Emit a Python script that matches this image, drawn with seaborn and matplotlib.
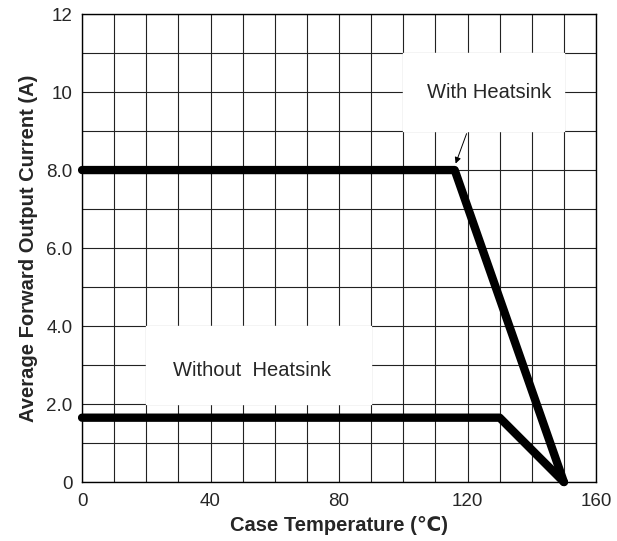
import matplotlib
matplotlib.use('Agg')
import matplotlib.pyplot as plt
import seaborn as sns
import pandas as pd

# derating curves
with_temp = [0, 116, 150]
with_current = [8.0, 8.0, 0.0]
without_temp = [0, 130, 150]
without_current = [1.65, 1.65, 0.0]

x_ticks = [0, 40, 80, 120, 160]
y_ticks = [0, 2, 4, 6, 8, 10, 12]
y_tick_labels = ['0', '2.0', '4.0', '6.0', '8.0', '10', '12']

df = pd.concat([
    pd.DataFrame({'temp': with_temp, 'current': with_current, 'curve': 'With Heatsink'}),
    pd.DataFrame({'temp': without_temp, 'current': without_current, 'curve': 'Without Heatsink'}),
])

sns.set_style('white')
plt.rcParams['font.family'] = ['Liberation Sans', 'DejaVu Sans']

fig = plt.figure(figsize=(6.17, 5.41), dpi=100)
ax = fig.add_axes([0.133, 0.109, 0.833, 0.865])

ax.set_xlim(0, 160)
ax.set_ylim(0, 12)
ax.set_xticks(range(0, 161, 10), minor=True)
ax.set_yticks(range(0, 13, 1), minor=True)
ax.grid(True, which='both', color='#222222', lw=0.8)
ax.set_axisbelow(True)

# white boxes behind the labels hide the grid
ax.fill_between([100, 150], 9, 11, color='white', zorder=1.5)
ax.fill_between([20, 90], 2, 4, color='white', zorder=1.5)

sns.lineplot(data=df, x='temp', y='current', units='curve', estimator=None,
             color='black', lw=6, solid_capstyle='round', solid_joinstyle='round',
             ax=ax, zorder=3, legend=False)
for line in ax.get_lines():
    line.set_clip_on(False)

ax.text(126.7, 10, 'With Heatsink', ha='center', va='center', fontsize=14.5, zorder=4)
ax.text(52.9, 2.85, 'Without  Heatsink', ha='center', va='center', fontsize=14.5, zorder=4)
ax.annotate('', xy=(116, 8.1), xytext=(120, 9),
            arrowprops=dict(arrowstyle='-|>', color='black', lw=0.7, mutation_scale=9), zorder=4)

ax.set_xticks(x_ticks)
ax.set_yticks(y_ticks)
ax.set_yticklabels(y_tick_labels)
ax.tick_params(which='both', length=0, labelsize=13.5)
ax.tick_params(axis='x', pad=8)
ax.tick_params(axis='y', pad=7)

for s in ax.spines.values():
    s.set_visible(True)
    s.set_color('black')
    s.set_linewidth(1.0)

ax.set_xlabel('Case Temperature (℃)', fontsize=14.5, fontweight='bold', labelpad=4)
ax.set_ylabel('Average Forward Output Current (A)', fontsize=14.5, fontweight='bold', labelpad=6)

fig.savefig('out.png', dpi=100)
